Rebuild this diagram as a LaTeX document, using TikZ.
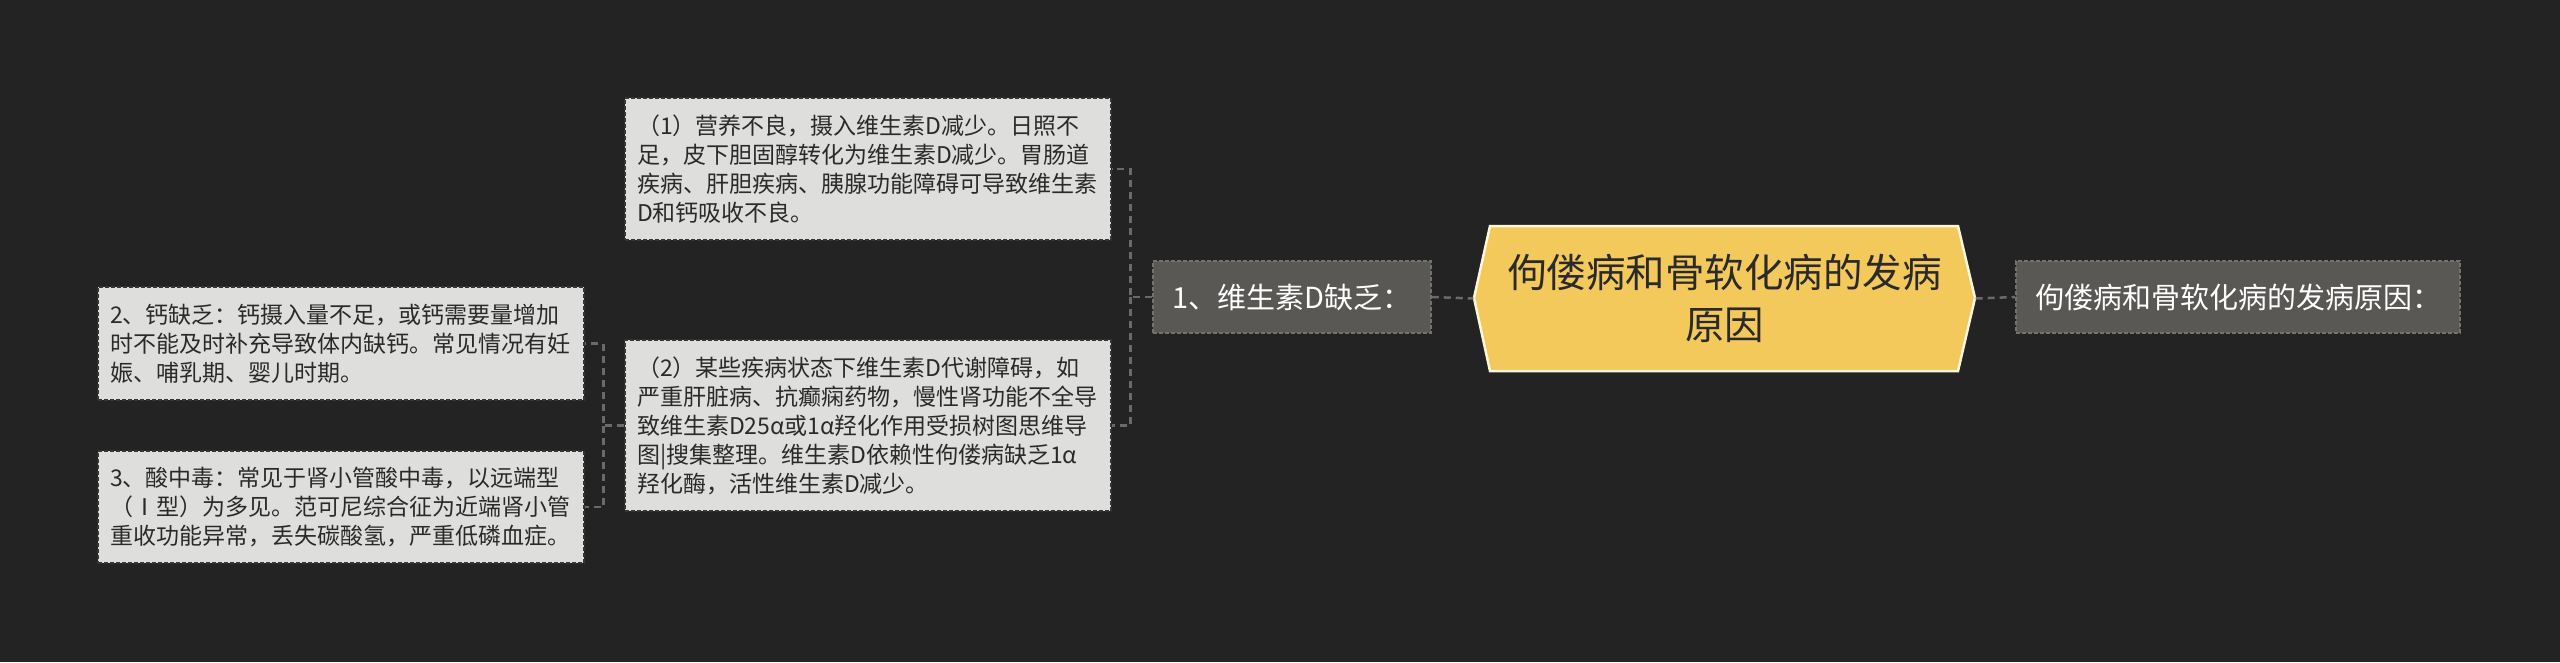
\documentclass[tikz,border=0pt]{standalone}
\usepackage{fontspec}
\setmainfont{Noto Sans CJK SC}
\definecolor{bgc}{HTML}{232323}
\definecolor{lonefill}{HTML}{5A5855}
\definecolor{lonedraw}{HTML}{75726E}
\definecolor{leaffill}{HTML}{DEDEDD}
\definecolor{leafdraw}{HTML}{353535}
\definecolor{leaftext}{HTML}{2A2A2A}
\definecolor{rootfill}{HTML}{F3C95C}
\definecolor{rootdraw}{HTML}{FFF6DC}
\definecolor{conncol}{HTML}{6A6A6A}
\tikzset{
  lone/.style={rectangle, fill=lonefill, draw=lonedraw, line width=1.5pt, dash pattern=on 4pt off 2pt,
    text=white, font=\fontsize{29}{36}\selectfont, inner sep=0pt, minimum height=72pt},
  leaf/.style={rectangle, fill=leaffill, draw=leafdraw, line width=1.5pt, dash pattern=on 4pt off 2pt,
    text=leaftext, font=\fontsize{23}{29}\selectfont, align=left, text width=462pt,
    inner xsep=12pt, inner ysep=0pt},
  conn/.style={draw=conncol, line width=2.5pt, dash pattern=on 7pt off 5pt},
  rootnode/.style={rectangle, draw=none, inner sep=0pt, align=center, text=leaftext,
    font=\fontsize{39.5}{52}\selectfont, minimum width=502pt, minimum height=145pt}
}
\begin{document}
\begin{tikzpicture}[x=1pt,y=-1pt]
\fill[bgc] (0,0) rectangle (2560,662);
\useasboundingbox (0,0) rectangle (2560,662);
% root hexagon
\filldraw[fill=rootfill, draw=rootdraw, line width=2.5pt, line join=miter]
  (1474,298) -- (1490,226) -- (1958,226) -- (1975,298) -- (1958,371) -- (1490,371) -- cycle;
\node[rootnode] (root) at (1724.5,298.5) {佝偻病和骨软化病的发病\\原因};
% level one
\node[lone, minimum width=278pt] (l1) at (1292,297) {1、维生素D缺乏：};
\node[lone, minimum width=444pt] (r1) at (2238,297) {佝偻病和骨软化病的发病原因：};
% leaves
\node[leaf, minimum height=142pt] (a1) at (868,169) {（1）营养不良，摄入维生素D减少。日照不\\足，皮下胆固醇转化为维生素D减少。胃肠道\\疾病、肝胆疾病、胰腺功能障碍可导致维生素\\D和钙吸收不良。};
\node[leaf, minimum height=171pt] (a2) at (868,425.5) {（2）某些疾病状态下维生素D代谢障碍，如\\严重肝脏病、抗癫痫药物，慢性肾功能不全导\\致维生素D25α或1α羟化作用受损树图思维导\\图|搜集整理。维生素D依赖性佝偻病缺乏1α\\羟化酶，活性维生素D减少。};
\node[leaf, minimum height=113pt] (b1) at (341,343.5) {2、钙缺乏：钙摄入量不足，或钙需要量增加\\时不能及时补充导致体内缺钙。常见情况有妊\\娠、哺乳期、婴儿时期。};
\node[leaf, minimum height=112pt] (b2) at (341,507) {3、酸中毒：常见于肾小管酸中毒，以远端型\\（Ⅰ型）为多见。范可尼综合征为近端肾小管\\重收功能异常，丢失碳酸氢，严重低磷血症。};
% connectors
\draw[conn] (l1.east) -- (root.west);
\draw[conn] (root.east) -- (r1.west);
\draw[conn] (l1.west) -- ++(-22,0) coordinate (j1) |- (a1.east);
\draw[conn] (j1) |- (a2.east);
\draw[conn] (a2.west) -- ++(-21,0) coordinate (j2) |- (b1.east);
\draw[conn] (j2) |- (b2.east);
\end{tikzpicture}
\end{document}
